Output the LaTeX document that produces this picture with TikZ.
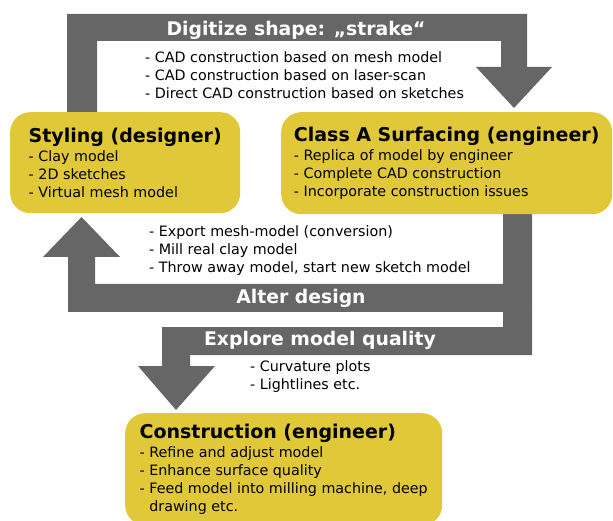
\documentclass[tikz,border=0pt]{standalone}
\usepackage{fontspec}
\setmainfont{DejaVu Sans}
\usepackage{tikz}
\usetikzlibrary{positioning}
\usepackage{xcolor}
\definecolor{arrowgray}{RGB}{102,102,102}
\definecolor{boxyellow}{RGB}{224,200,56}

\tikzset{
  phase/.style={fill=boxyellow, rounded corners=20pt, align=left, anchor=north west, font=\fontsize{14.3}{18}\selectfont},
  note/.style={align=left, inner sep=0pt, anchor=west, font=\fontsize{14.3}{18}\selectfont},
  bandlabel/.style={text=white, inner sep=0pt, font=\fontsize{18.8}{22}\selectfont\bfseries},
  bigarrow/.style={fill=arrowgray}
}
\newcommand{\phasetitle}[1]{{\fontsize{19}{22}\selectfont\bfseries #1}\\[1pt]}

\begin{document}
\begin{tikzpicture}[x=1pt, y=-1pt]
\useasboundingbox (0,0) rectangle (613,521);

% big arrows
\fill[bigarrow] (67,112) -- (67,14) -- (527,14) -- (527,67) -- (552,67) -- (514,108) -- (476,67) -- (501,67) -- (501,41) -- (97,41) -- (97,112) -- cycle;
\fill[bigarrow] (503,214) -- (532,214) -- (532,312) -- (68,312) -- (68,257) -- (43,257) -- (81.5,217) -- (120,257) -- (95,257) -- (95,284) -- (503,284) -- cycle;
\fill[bigarrow] (532,312) -- (532,355) -- (190,355) -- (190,366) -- (215,366) -- (176,410) -- (138,366) -- (162,366) -- (162,327) -- (503,327) -- (503,312) -- cycle;

\node[bandlabel] (digitize) at (296,30) {Digitize shape: „strake“};
\node[bandlabel] (alter) at (301,298) {Alter design};
\node[bandlabel] (explore) at (320,340) {Explore model quality};

% phases
\node[phase, minimum width=230pt, minimum height=101pt] (styling) at (10,112)
  {\phasetitle{Styling (designer)}- Clay model\\- 2D sketches\\- Virtual mesh model};
\node[phase, minimum width=331pt, minimum height=102pt] (surfacing) at (281,112)
  {\phasetitle{Class A Surfacing (engineer)}- Replica of model by engineer\\- Complete CAD construction\\- Incorporate construction issues};
\node[phase, minimum width=317pt, minimum height=112pt] (construction) at (125,413)
  {\phasetitle{Construction (engineer)}- Refine and adjust model\\- Enhance surface quality\\- Feed model into milling machine, deep\\\phantom{- }drawing etc.};

% notes
\node[note] (scannotes) at (145,75.5)
  {- CAD construction based on mesh model\\- CAD construction based on laser-scan\\- Direct CAD construction based on sketches};
\node[note] (alternotes) at (149,251)
  {- Export mesh-model (conversion)\\- Mill real clay model\\- Throw away model, start new sketch model};
\node[note] (qualitynotes) at (250,377)
  {- Curvature plots\\- Lightlines etc.};
\end{tikzpicture}
\end{document}
